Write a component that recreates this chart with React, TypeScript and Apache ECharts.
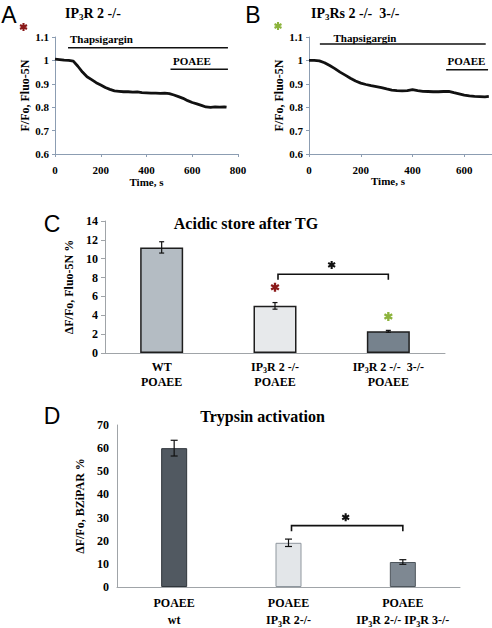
import React, { useEffect, useRef } from "react";
import * as echarts from "echarts";

// ---------- data ----------
const timeA = [0, 20, 40, 60, 80, 100, 120, 140, 160, 180, 200, 220, 240, 260, 280, 300, 320, 340, 360, 380, 400, 420, 440, 460, 480, 500, 520, 540, 560, 580, 600, 620, 640, 660, 680, 700, 720, 740, 750];
const fluoA = [1.005, 1.003, 1.001, 1.0, 0.997, 0.975, 0.95, 0.93, 0.918, 0.905, 0.895, 0.884, 0.876, 0.87, 0.868, 0.866, 0.866, 0.864, 0.865, 0.862, 0.861, 0.86, 0.86, 0.859, 0.86, 0.858, 0.852, 0.845, 0.838, 0.828, 0.82, 0.814, 0.808, 0.801, 0.799, 0.801, 0.8, 0.801, 0.8];
const timeB = [0, 20, 40, 60, 80, 100, 120, 140, 160, 180, 200, 220, 240, 260, 280, 300, 320, 340, 360, 380, 400, 420, 440, 460, 480, 500, 520, 540, 560, 580, 600, 620, 640, 660, 680, 695];
const fluoB = [1.0, 1.0, 0.998, 0.99, 0.978, 0.965, 0.95, 0.937, 0.924, 0.912, 0.903, 0.897, 0.892, 0.888, 0.884, 0.878, 0.873, 0.871, 0.87, 0.871, 0.875, 0.871, 0.868, 0.867, 0.866, 0.866, 0.867, 0.868, 0.862, 0.857, 0.852, 0.848, 0.846, 0.845, 0.844, 0.846];

// treatment bars: [start s, end s], level
const thapA = [57, 756];
const thapALevel = 1.054;
const poaeeA = [505, 756];
const poaeeALevel = 0.962;
const thapB = [42, 683];
const thapBLevel = 1.07;
const poaeeB = [530, 692];
const poaeeBLevel = 0.96;

const catsC = ["WT\nPOAEE", "IP3R 2 -/-\nPOAEE", "IP3R 2 -/-  3-/-\nPOAEE"];
const valsC = [11.2, 5.0, 2.3];
const errC = [0.6, 0.35, 0.1];
const bracketC = [1, 2, 8.36, 7.76, 9.34]; // from cat, to cat, top, foot, star
const starsC = [[1, 6.98, 0], [2, 3.87, 1]]; // cat, value, colour index

const catsD = ["POAEE\nwt", "POAEE\nIP3R 2-/-", "POAEE\nIP3R 2-/- IP3R 3-/-"];
const valsD = [60.0, 19.1, 10.8];
const errD = [3.4, 1.6, 1.0];
const bracketD = [1, 2, 26.5, 24.1, 30.1];

// ---------- styles ----------
const SERIF = "'Liberation Serif', 'Times New Roman', serif";
const SANS = "'Liberation Sans', Arial, sans-serif";
const colorsC = ["#b4bcc3", "#e7e9eb", "#76828d"];
const bordersC = ["#1e1e1e", "#1e1e1e", "#1e1e1e"];
const colorsD = ["#515961", "#e3e6e9", "#7e8892"];
const bordersD = ["#2f353b", "#8f979e", "#4d555c"];
const starColors = ["#8b1a1a", "#8cb33c", "#111111"];

const STAR_D = (() => {
  const L = 5, W = 1.3;
  let d = "";
  for (const deg of [90, 30, 150]) {
    const t = (deg * Math.PI) / 180;
    const dx = Math.cos(t), dy = Math.sin(t), nx = -dy, ny = dx;
    const pts = [
      [L * dx + W * nx, L * dy + W * ny],
      [L * dx - W * nx, L * dy - W * ny],
      [-L * dx - W * nx, -L * dy - W * ny],
      [-L * dx + W * nx, -L * dy + W * ny],
    ];
    d += "M" + pts.map((p) => p[0].toFixed(3) + "," + p[1].toFixed(3)).join("L") + "Z";
  }
  return d;
})();

let registered = false;
function registerStar() {
  if (registered) return;
  echarts.graphic.registerShape("asterisk", echarts.graphic.extendPath(STAR_D, {}) as any);
  registered = true;
}

function richIP(line: string) {
  return line
    .split("IP3R")
    .map((p) => (p ? `{b|${p}}` : ""))
    .join("{b|IP}{s|3}{b|R}");
}
function richLabel(v: string) {
  return v.split("\n").map(richIP).join("\n");
}

const richFor = (fs: number, lh: number) => ({
  b: { fontFamily: SERIF, fontWeight: "bold", fontSize: fs, color: "#000", lineHeight: lh },
  s: { fontFamily: SERIF, fontWeight: "bold", fontSize: Math.round(fs * 0.65), color: "#000", lineHeight: Math.round(lh * 0.6), verticalAlign: "bottom" },
});

const tickFont = (fs: number) => ({ fontFamily: SERIF, fontWeight: "bold" as const, fontSize: fs, color: "#000" });

function App() {
  const ref = useRef<HTMLDivElement>(null);
  useEffect(() => {
    if (!ref.current) return;
    registerStar();
    const chart = echarts.init(ref.current, undefined, { renderer: "svg" });

    const lineAxisAB = { lineStyle: { color: "#8c9db2", width: 1 } };

    const errRender = (cap: number) => (params: any, api: any) => {
      const x = api.value(0);
      const v = api.value(1);
      const e = api.value(2);
      const top = api.coord([x, v + e]);
      const bot = api.coord([x, v - e]);
      const st = { stroke: "#111", lineWidth: 1.2 };
      return {
        type: "group",
        children: [
          { type: "line", shape: { x1: top[0], y1: top[1], x2: bot[0], y2: bot[1] }, style: st },
          { type: "line", shape: { x1: top[0] - cap, y1: top[1], x2: top[0] + cap, y2: top[1] }, style: st },
          { type: "line", shape: { x1: bot[0] - cap, y1: bot[1], x2: bot[0] + cap, y2: bot[1] }, style: st },
        ],
      };
    };

    const bracketRender = (params: any, api: any) => {
      const a = api.value(0), b = api.value(1), top = api.value(2), foot = api.value(3), star = api.value(4);
      const p1 = api.coord([a, foot]);
      const p2 = api.coord([a, top]);
      const p3 = api.coord([b, top]);
      const p4 = api.coord([b, foot]);
      const ps = api.coord([a, star]);
      const mx = (p2[0] + p3[0]) / 2;
      const s = 8;
      return {
        type: "group",
        children: [
          {
            type: "polyline",
            shape: { points: [[p1[0] + 3, p1[1]], [p2[0] + 3, p2[1]], [p3[0], p3[1]], [p4[0], p4[1]]] },
            style: { stroke: "#111", lineWidth: 1.6, fill: null },
          },
          {
            type: "path",
            shape: { pathData: STAR_D, x: mx - s / 2, y: ps[1] - s / 2, width: s, height: s, layout: "center" },
            style: { fill: starColors[2] },
          },
        ],
      };
    };

    const starRender = (params: any, api: any) => {
      const p = api.coord([api.value(0), api.value(1)]);
      const s = 9;
      return {
        type: "path",
        shape: { pathData: STAR_D, x: p[0] - s / 2, y: p[1] - s / 2, width: s, height: s, layout: "center" },
        style: { fill: starColors[api.value(2)] },
      };
    };

    const textG = (text: string, x: number, y: number, fs: number, extra: any = {}) => ({
      type: "text",
      x,
      y,
      style: {
        text,
        fontFamily: SERIF,
        fontWeight: "bold",
        fontSize: fs,
        fill: "#000",
        align: "center",
        verticalAlign: "middle",
        ...extra,
      },
    });

    const letter = (t: string, x: number, y: number) => ({
      type: "text",
      x,
      y,
      style: { text: t, fontFamily: SANS, fontSize: 23, fill: "#000", align: "center", verticalAlign: "middle" },
    });

    const option: any = {
      animation: false,
      backgroundColor: "#ffffff",
      grid: [
        { left: 55, top: 37, width: 183, height: 117, outerBoundsMode: "none", containLabel: false },
        { left: 309, top: 37, width: 207, height: 117, outerBoundsMode: "none", containLabel: false },
        { left: 105, top: 221, width: 340, height: 132, outerBoundsMode: "none", containLabel: false },
        { left: 117, top: 425, width: 343, height: 162, outerBoundsMode: "none", containLabel: false },
      ],
      xAxis: [
        {
          gridIndex: 0, type: "value", min: 0, max: 800, interval: 200,
          axisLine: lineAxisAB, axisTick: { show: true, length: 3, lineStyle: { color: "#8c9db2" } },
          splitLine: { show: false }, axisLabel: { ...tickFont(11), margin: 10 },
          name: "Time, s", nameLocation: "middle", nameGap: 22, nameTextStyle: tickFont(11),
        },
        {
          gridIndex: 1, type: "value", min: 0, max: 800, interval: 200,
          axisLine: lineAxisAB, axisTick: { show: true, length: 3, lineStyle: { color: "#8c9db2" } },
          splitLine: { show: false }, axisLabel: { ...tickFont(11), margin: 10, showMaxLabel: false },
        },
        {
          gridIndex: 2, type: "category", data: catsC,
          axisLine: { lineStyle: { color: "#a0a4a8", width: 1 } }, axisTick: { show: false },
          axisLabel: { margin: 6, formatter: (v: string) => richLabel(v), rich: richFor(12, 15), interval: 0 },
        },
        {
          gridIndex: 3, type: "category", data: catsD,
          axisLine: { lineStyle: { color: "#a0a4a8", width: 1 } }, axisTick: { show: false },
          axisLabel: { margin: 7, formatter: (v: string) => richLabel(v), rich: richFor(12, 17), interval: 0 },
        },
      ],
      yAxis: [
        {
          gridIndex: 0, type: "value", min: 0.6, max: 1.1, interval: 0.1,
          axisLine: { show: true, ...lineAxisAB }, axisTick: { show: true, length: 3, lineStyle: { color: "#8c9db2" } },
          splitLine: { show: false },
          axisLabel: { ...tickFont(11), margin: 6, formatter: (v: number) => String(Math.round(v * 10) / 10) },
          name: "F/Fo, Fluo-5N", nameLocation: "middle", nameRotate: 90, nameGap: 22, nameTextStyle: tickFont(12),
        },
        {
          gridIndex: 1, type: "value", min: 0.6, max: 1.1, interval: 0.1,
          axisLine: { show: true, ...lineAxisAB }, axisTick: { show: true, length: 3, lineStyle: { color: "#8c9db2" } },
          splitLine: { show: false },
          axisLabel: { ...tickFont(11), margin: 6, formatter: (v: number) => String(Math.round(v * 10) / 10) },
          name: "F/Fo, Fluo-5N", nameLocation: "middle", nameRotate: 90, nameGap: 22, nameTextStyle: tickFont(12),
        },
        {
          gridIndex: 2, type: "value", min: 0, max: 14, interval: 2,
          axisLine: { show: true, lineStyle: { color: "#a0a4a8", width: 1 } },
          axisTick: { show: true, length: 4, lineStyle: { color: "#a0a4a8" } },
          splitLine: { show: false }, axisLabel: { ...tickFont(12), margin: 7 },
          name: "ΔF/Fo, Fluo-5N %", nameLocation: "middle", nameRotate: 90, nameGap: 24, nameTextStyle: tickFont(12),
        },
        {
          gridIndex: 3, type: "value", min: 0, max: 70, interval: 10,
          axisLine: { show: true, lineStyle: { color: "#a0a4a8", width: 1 } },
          axisTick: { show: false },
          splitLine: { show: false }, axisLabel: { ...tickFont(12), margin: 8 },
          name: "ΔF/Fo, BZiPAR %", nameLocation: "middle", nameRotate: 90, nameGap: 27, nameTextStyle: tickFont(12),
        },
      ],
      series: [
        {
          type: "line", xAxisIndex: 0, yAxisIndex: 0, showSymbol: false, smooth: false,
          data: timeA.map((t, i) => [t, fluoA[i]]), lineStyle: { color: "#111", width: 2.8 },
        },
        {
          type: "line", xAxisIndex: 0, yAxisIndex: 0, showSymbol: false,
          data: thapA.map((t) => [t, thapALevel]), lineStyle: { color: "#111", width: 1.6 },
        },
        {
          type: "line", xAxisIndex: 0, yAxisIndex: 0, showSymbol: false,
          data: poaeeA.map((t) => [t, poaeeALevel]), lineStyle: { color: "#111", width: 1.6 },
        },
        {
          type: "line", xAxisIndex: 1, yAxisIndex: 1, showSymbol: false, smooth: false,
          data: timeB.map((t, i) => [t, fluoB[i]]), lineStyle: { color: "#111", width: 2.8 },
        },
        {
          type: "line", xAxisIndex: 1, yAxisIndex: 1, showSymbol: false,
          data: thapB.map((t) => [t, thapBLevel]), lineStyle: { color: "#111", width: 1.6 },
        },
        {
          type: "line", xAxisIndex: 1, yAxisIndex: 1, showSymbol: false,
          data: poaeeB.map((t) => [t, poaeeBLevel]), lineStyle: { color: "#111", width: 1.6 },
        },
        {
          type: "bar", xAxisIndex: 2, yAxisIndex: 2, barWidth: 43,
          data: valsC.map((v, i) => ({ value: v, itemStyle: { color: colorsC[i], borderColor: bordersC[i], borderWidth: 1.5 } })),
        },
        {
          type: "custom", xAxisIndex: 2, yAxisIndex: 2, renderItem: errRender(2.5),
          data: valsC.map((v, i) => [i, v, errC[i]]), z: 5,
        },
        {
          type: "custom", xAxisIndex: 2, yAxisIndex: 2, renderItem: bracketRender, data: [bracketC], z: 5,
        },
        {
          type: "custom", xAxisIndex: 2, yAxisIndex: 2, renderItem: starRender, data: starsC, z: 5,
        },
        {
          type: "bar", xAxisIndex: 3, yAxisIndex: 3, barWidth: 26,
          data: valsD.map((v, i) => ({ value: v, itemStyle: { color: colorsD[i], borderColor: bordersD[i], borderWidth: 1 } })),
        },
        {
          type: "custom", xAxisIndex: 3, yAxisIndex: 3, renderItem: errRender(3.5),
          data: valsD.map((v, i) => [i, v, errD[i]]), z: 5,
        },
        {
          type: "custom", xAxisIndex: 3, yAxisIndex: 3, renderItem: bracketRender, data: [bracketD], z: 5,
        },
      ],
      graphic: [
        letter("A", 9, 15),
        letter("B", 253, 15),
        letter("C", 52, 224),
        letter("D", 52, 416),
        { type: "asterisk", x: 23.5, y: 27, scaleX: 0.8, scaleY: 0.8, style: { fill: starColors[0] } },
        { type: "asterisk", x: 278, y: 26, scaleX: 0.8, scaleY: 0.8, style: { fill: starColors[1] } },
        {
          type: "text", x: 65, y: 13,
          style: { text: richIP("IP3R 2 -/-"), rich: richFor(14, 16), align: "left", verticalAlign: "middle" },
        },
        {
          type: "text", x: 311, y: 13,
          style: { text: richIP("IP3Rs 2 -/-  3-/-"), rich: richFor(14, 16), align: "left", verticalAlign: "middle" },
        },
        textG("Thapsigargin", 101.5, 39, 11),
        textG("POAEE", 192, 61, 11),
        textG("Thapsigargin", 365, 38, 11),
        textG("POAEE", 466.5, 61, 11),
        textG("Time, s", 388, 181, 11),
        textG("Acidic store after TG", 246, 223, 16),
        textG("Trypsin activation", 262.5, 416, 16),
      ],
    };

    chart.setOption(option);
    return () => chart.dispose();
  }, []);

  return (
    <div
      ref={ref}
      style={{ position: "absolute", left: 0, top: 0, width: 492, height: 628, background: "#fff" }}
    />
  );
}

export default App;
